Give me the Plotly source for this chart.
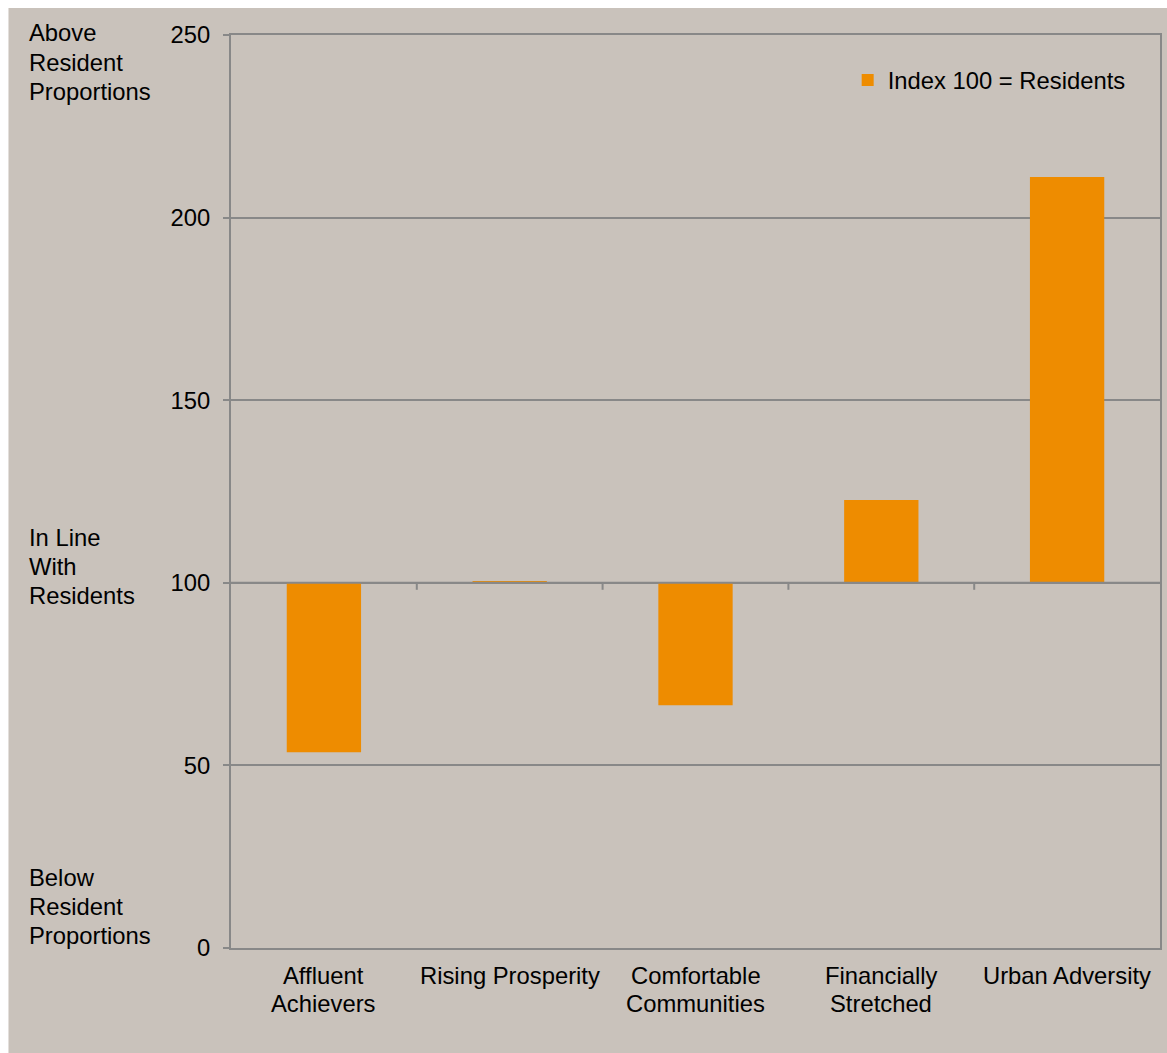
import plotly.graph_objects as go

categories = ["Affluent Achievers", "Rising Prosperity", "Comfortable Communities",
              "Financially Stretched", "Urban Adversity"]
tick_label_lines = [["Affluent", "Achievers"], ["Rising Prosperity"], ["Comfortable", "Communities"],
                    ["Financially", "Stretched"], ["Urban Adversity"]]
index_values = [53.6, 100.3, 66.5, 122.7, 211.1]
baseline = 100
y_ticks = [0, 50, 100, 150, 200, 250]
series_name = "Index 100 = Residents"
side_label_lines = [["Above", "Resident", "Proportions"], ["In Line", "With", "Residents"],
                    ["Below", "Resident", "Proportions"]]

BG = "#C9C2BB"
ORANGE = "#EE8C00"
GRID = "#888888"
FONT = "Liberation Sans, Arial, sans-serif"
FS = 23.8
LINE = 29

W, H = 1167, 1053
L, R, T, B = 231, 5, 35, 105
pw, ph = W - L - R, H - T - B

def px_x(px):
    return (px - L) / pw

def px_y(py):
    return (H - B - py) / ph

fig = go.Figure()
fig.add_trace(go.Bar(
    x=categories,
    y=[v - baseline for v in index_values],
    base=baseline,
    width=0.4,
    marker=dict(color=ORANGE, line=dict(width=0)),
    name=series_name,
    showlegend=True,
))

shapes = [
    dict(type="rect", xref="paper", yref="paper", layer="below",
         x0=px_x(-5), x1=px_x(8), y0=px_y(H + 5), y1=px_y(-5),
         fillcolor="#FFFFFF", line=dict(width=0)),
    dict(type="rect", xref="paper", yref="paper", layer="below",
         x0=px_x(-5), x1=px_x(W + 5), y0=px_y(8), y1=px_y(-5),
         fillcolor="#FFFFFF", line=dict(width=0)),
    dict(type="line", xref="paper", yref="y", x0=0, x1=1, y0=baseline, y1=baseline,
         line=dict(color=GRID, width=2), layer="above"),
]
for i in range(len(categories) - 1):
    shapes.append(dict(type="line", xref="x", yref="y", ysizemode="pixel",
                       yanchor=baseline, x0=i + 0.5, x1=i + 0.5, y0=0, y1=-7,
                       line=dict(color=GRID, width=2)))

annotations = []
for lines, py0 in zip(side_label_lines, [33, 537, 877]):
    for j, txt in enumerate(lines):
        annotations.append(dict(text=txt, xref="paper", yref="paper", x=px_x(27),
                                y=px_y(py0 + j * LINE), xanchor="left", yanchor="middle",
                                showarrow=False,
                                font=dict(family=FONT, size=FS, color="#000000")))
for cat, lines in zip(categories, tick_label_lines):
    for j, txt in enumerate(lines):
        annotations.append(dict(text=txt, xref="x", yref="paper", x=cat,
                                y=px_y(975 + j * (LINE - 1)), xanchor="center", yanchor="middle",
                                showarrow=False,
                                font=dict(family=FONT, size=FS, color="#000000")))

fig.update_layout(
    width=W, height=H,
    margin=dict(l=L, r=R, t=T, b=B, pad=0),
    paper_bgcolor=BG,
    plot_bgcolor=BG,
    font=dict(family=FONT, size=FS, color="#000000"),
    shapes=shapes,
    annotations=annotations,
    showlegend=True,
    legend=dict(x=px_x(849), y=px_y(80), xanchor="left", yanchor="middle",
                bgcolor="rgba(0,0,0,0)", font=dict(family=FONT, size=FS),
                itemwidth=30, borderwidth=0),
    xaxis=dict(type="category", categoryorder="array", categoryarray=categories,
               showticklabels=False,
               showline=True, linecolor=GRID, linewidth=2, mirror=True,
               showgrid=False, ticks=""),
    yaxis=dict(range=[0, 250], tickmode="array", tickvals=y_ticks,
               showgrid=True, gridcolor=GRID, gridwidth=1.5, zeroline=False,
               showline=True, linecolor=GRID, linewidth=2, mirror=True,
               ticks="outside", ticklen=6, tickcolor=GRID, tickwidth=2,
               ticklabelstandoff=8, tickfont=dict(family=FONT, size=FS)),
)

fig.write_html("out.html")
